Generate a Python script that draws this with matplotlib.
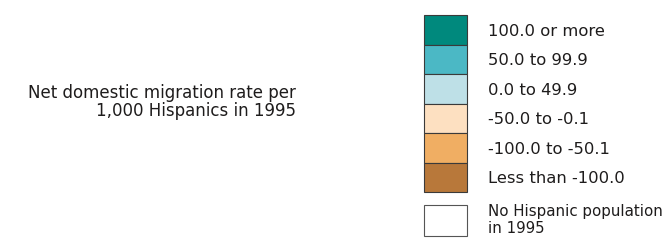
import matplotlib
matplotlib.use("Agg")
import matplotlib.pyplot as plt
from matplotlib.patches import Rectangle

title_lines = ["Net domestic migration rate per", "1,000 Hispanics in 1995"]
labels = ["100.0 or more", "50.0 to 99.9", "0.0 to 49.9",
          "-50.0 to -0.1", "-100.0 to -50.1", "Less than -100.0"]
colors = ["#00897d", "#4bb8c5", "#bee0e7", "#fde0c1", "#f0ae63", "#b8783a"]
nodata_label = ["No Hispanic population", "in 1995"]
nodata_color = "#ffffff"

W, H = 667, 241
fig = plt.figure(figsize=(W / 100, H / 100), dpi=100)
ax = fig.add_axes([0, 0, 1, 1])
ax.set_xlim(0, W)
ax.set_ylim(H, 0)
ax.axis("off")

font = dict(family=["DejaVu Sans"], color="#1e1c1c")

# Title
ax.text(296, 98, title_lines[0], ha="right", va="baseline", fontsize=12.0, **font)
ax.text(296, 116, title_lines[1], ha="right", va="baseline", fontsize=12.0, **font)

# Color swatches
x0, w = 424, 43
top, h = 15, 29.5
for i, (lab, c) in enumerate(zip(labels, colors)):
    y = top + i * h
    ax.add_patch(Rectangle((x0, y), w, h, facecolor=c, edgecolor="#3a3a3a", linewidth=0.8))
    ax.text(488, y + h / 2 + 6, lab, ha="left", va="baseline", fontsize=11.8, **font)

# No data swatch
ax.add_patch(Rectangle((x0, 205), w, 31, facecolor=nodata_color, edgecolor="#555555", linewidth=0.8))
ax.text(488, 216, nodata_label[0], ha="left", va="baseline", fontsize=10.8, **font)
ax.text(488, 233, nodata_label[1], ha="left", va="baseline", fontsize=10.8, **font)

fig.savefig("out.png", dpi=100)
